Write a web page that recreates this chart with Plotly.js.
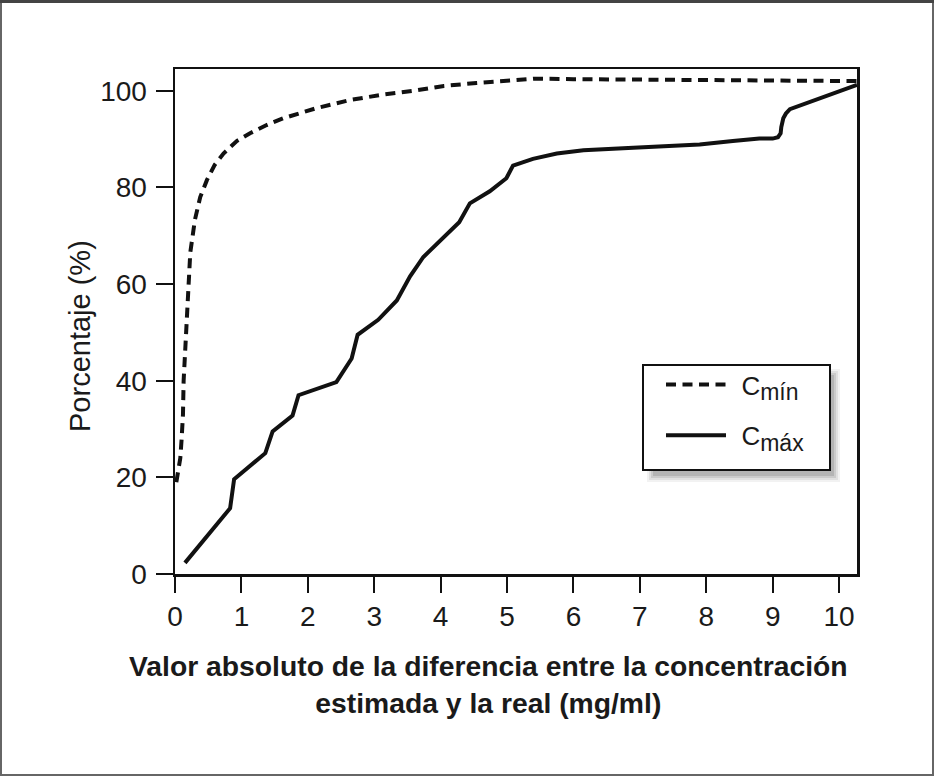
<!DOCTYPE html>
<html>
<head>
<meta charset="utf-8">
<script src="https://cdn.plot.ly/plotly-3.0.1.min.js"></script>
<style>html,body{margin:0;padding:0;background:#fff;}#chart{width:934px;height:776px;}</style>
</head>
<body>
<div id="chart"></div>
<script>
// Cmín (dashed)
const cminX = [0.02, 0.05, 0.08, 0.10, 0.12, 0.13, 0.15, 0.175, 0.20, 0.23, 0.30, 0.38, 0.48, 0.60, 0.73, 0.93, 1.13, 1.38, 1.63, 1.88, 2.13, 2.64, 3.13, 3.60, 4.05, 4.54, 5.04, 5.40, 6.0, 7.0, 8.0, 9.0, 10.27];
const cminY = [19, 21, 24, 28, 33, 40, 46, 53, 60, 66.5, 73.3, 78, 81.5, 84.7, 87, 89.6, 91.2, 92.9, 94.3, 95.4, 96.4, 98.1, 99.2, 100, 101, 101.6, 102.2, 102.5, 102.4, 102.3, 102.2, 102.1, 102];
// Cmáx (solid)
const cmaxX = [0.15, 0.83, 0.89, 1.36, 1.47, 1.77, 1.86, 2.43, 2.66, 2.75, 3.06, 3.34, 3.54, 3.74, 4.28, 4.44, 4.74, 4.99, 5.09, 5.39, 5.75, 6.15, 6.9, 7.9, 8.4, 8.8, 9.0, 9.08, 9.12, 9.13, 9.16, 9.2, 9.26, 9.46, 10.27];
const cmaxY = [2.3, 13.6, 19.6, 25, 29.5, 32.8, 37, 39.7, 44.6, 49.5, 52.6, 56.6, 61.6, 65.6, 72.8, 76.7, 79.2, 81.9, 84.5, 85.9, 87, 87.7, 88.2, 88.9, 89.6, 90.1, 90.1, 90.4, 91.2, 92.5, 94.3, 95.3, 96.2, 97.2, 101.2];
const xTicks = [0, 1, 2, 3, 4, 5, 6, 7, 8, 9, 10];
const yTicks = [0, 20, 40, 60, 80, 100];
const xTitle = 'Valor absoluto de la diferencia entre la concentración<br>estimada y la real (mg/ml)';
const yTitle = 'Porcentaje (%)';
const nameMin = '\u2009\u2009C<sub><span style="font-size:23px">mín</span></sub>';
const nameMax = '\u2009\u2009C<sub><span style="font-size:23px">máx</span></sub>';

const FONT = 'Liberation Sans, Arial, Helvetica, sans-serif';
const L = 175, R = 857, T = 69, B = 574, W = 934, H = 776;
const px = v => (v - L) / (R - L);
const py = v => (B - v) / (B - T);

const traces = [
  {x: cminX, y: cminY, mode: 'lines', name: nameMin, legendgroup: 'a',
   line: {color: '#111', width: 4, dash: '10px,6.5px'}},
  {x: cmaxX, y: cmaxY, mode: 'lines', name: nameMax, legendgroup: 'b',
   line: {color: '#111', width: 4}}
];

const shapes = [];
// legend shadow (soft)
const shadowSteps = [[10, 0.05], [8, 0.07], [6, 0.09], [4, 0.11]];
shadowSteps.forEach(([g, op]) => {
  shapes.push({type: 'rect', xref: 'paper', yref: 'paper', layer: 'below',
    x0: px(643 + 14 - g), x1: px(830 + g), y0: py(470 + g + 2), y1: py(365 + 14 - g),
    fillcolor: 'rgba(0,0,0,' + op + ')', line: {width: 0}});
});
// legend box
shapes.push({type: 'rect', xref: 'paper', yref: 'paper', layer: 'below',
  x0: px(643), x1: px(830), y0: py(470), y1: py(365),
  fillcolor: '#fff', line: {color: '#111', width: 2}});
// outer frame
shapes.push({type: 'rect', xref: 'paper', yref: 'paper', layer: 'above',
  x0: px(1), x1: px(W - 1), y0: py(H - 1), y1: py(1),
  line: {color: '#666', width: 2}});
shapes.push({type: 'line', xref: 'paper', yref: 'paper', layer: 'above',
  x0: px(0), x1: px(W), y0: py(1.5), y1: py(1.5),
  line: {color: '#444', width: 3}});

const layout = {
  width: W, height: H,
  margin: {l: L, r: W - R, t: T, b: H - B, pad: 0},
  paper_bgcolor: '#fff', plot_bgcolor: '#fff',
  font: {family: FONT, color: '#1a1a1a', size: 28},
  showlegend: true,
  legend: {x: px(661), y: py(361), xanchor: 'left', yanchor: 'top',
    bgcolor: 'rgba(0,0,0,0)', borderwidth: 0, itemwidth: 60,
    tracegroupgap: 14, font: {size: 26, family: FONT, color: '#1a1a1a'}},
  xaxis: {range: [0, 10.27], tickvals: xTicks, ticktext: xTicks.map(String),
    showline: true, mirror: true, linecolor: '#111', linewidth: 2.5,
    ticks: 'outside', ticklen: 16, tickwidth: 2, tickcolor: '#111',
    showgrid: false, zeroline: false, tickfont: {size: 28}},
  yaxis: {range: [0, 104.5], tickvals: yTicks, ticktext: yTicks.map(String),
    showline: true, mirror: true, linecolor: '#111', linewidth: 2.5,
    ticks: 'outside', ticklen: 17, tickwidth: 2, tickcolor: '#111',
    ticklabelstandoff: 3,
    showgrid: false, zeroline: false, tickfont: {size: 28}},
  shapes: shapes,
  annotations: [
    {text: '<b>' + xTitle + '</b>', xref: 'paper', yref: 'paper',
     x: px(488), y: py(648), xanchor: 'center', yanchor: 'top', showarrow: false,
     font: {size: 28.3, family: FONT, color: '#1a1a1a'}},
    {text: yTitle, xref: 'paper', yref: 'paper', textangle: -90,
     x: px(80), y: py(336), xanchor: 'center', yanchor: 'middle', showarrow: false,
     font: {size: 29, family: FONT, color: '#1a1a1a'}}
  ]
};

Plotly.newPlot('chart', traces, layout, {displayModeBar: false, staticPlot: true});
</script>
</body>
</html>
